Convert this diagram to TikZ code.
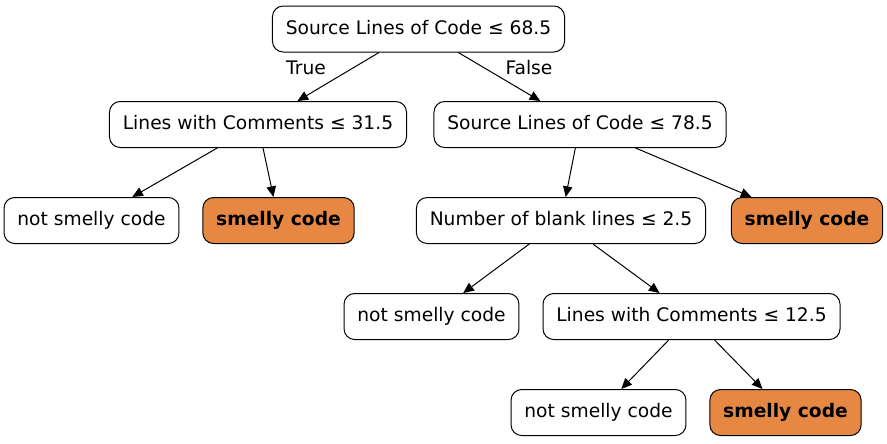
\documentclass[tikz,border=0pt]{standalone}
\usepackage{fontspec}
\setmainfont{DejaVu Sans}
\usepackage{xcolor}
\usepackage{tikz}
\usetikzlibrary{arrows.meta}
\definecolor{smellyorange}{HTML}{E68844}

\begin{document}
\begin{tikzpicture}[x=0.75pt, y=-0.75pt,
    every node/.style={font=\fontsize{14}{16}\selectfont},
    split/.style={draw, rounded corners=8pt, line width=0.75pt, inner xsep=10pt, inner ysep=0pt, text height=10.5pt, text depth=3pt, minimum height=34.5pt, fill=white},
    smelly/.style={split, fill=smellyorange, font=\fontsize{14}{16}\selectfont\bfseries},
    edge/.style={-{Triangle[length=8pt,width=7pt]}, line width=0.75pt}]
            \useasboundingbox (0,0) rectangle (887,443);
            % Root
            \node[split] (root) at (418.5,29) {Source Lines of Code ≤ 68.5};
            % First level
            \node[split] (comA) at (258,124.5) {Lines with Comments ≤ 31.5};
            \node[split] (slocB) at (580,124.5) {Source Lines of Code ≤ 78.5};
            % Second level
            \node[split] (notA) at (91.5,220.5) {not smelly code};
            \node[smelly] (smA) at (278.5,220.5) {smelly code};
            \node[split] (blank) at (561,220.5) {Number of blank lines ≤ 2.5};
            \node[smelly] (smB) at (807,220.5) {smelly code};
            % Third level
            \node[split] (notB) at (431.5,316.5) {not smelly code};
            \node[split] (comC) at (691.5,316.5) {Lines with Comments ≤ 12.5};
            % Fourth level
            \node[split] (notC) at (598.5,412.5) {not smelly code};
            \node[smelly] (smC) at (785.5,412.5) {smelly code};
            % Edges
            \draw[edge] (root) -- (comA);
            \draw[edge] (root) -- (slocB);
            \node (true) at (306,68) {True};
            \node (false) at (529,68) {False};
            \draw[edge] (comA) -- (notA);
            \draw[edge] (comA) -- (smA);
            \draw[edge] (slocB) -- (blank);
            \draw[edge] (slocB) -- (smB);
            \draw[edge] (blank) -- (notB);
            \draw[edge] (blank) -- (comC);
            \draw[edge] (comC) -- (notC);
            \draw[edge] (comC) -- (smC);
        \end{tikzpicture}
\end{document}
